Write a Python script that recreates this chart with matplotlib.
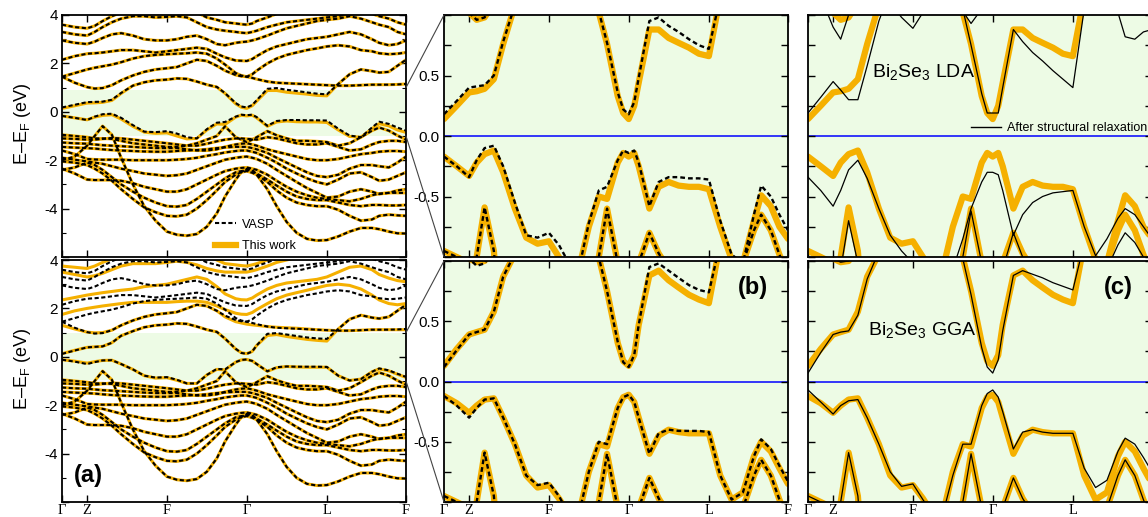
import numpy as np
import matplotlib
matplotlib.use("Agg")
import matplotlib.pyplot as plt
from matplotlib.patches import ConnectionPatch
from matplotlib.lines import Line2D

plt.rcParams['font.family'] = ['Liberation Sans', 'DejaVu Sans']
plt.rcParams['mathtext.fontset'] = 'custom'
plt.rcParams['mathtext.rm'] = 'Liberation Sans'
plt.rcParams['mathtext.it'] = 'Liberation Sans:italic'
plt.rcParams['axes.unicode_minus'] = False

# ---------------- data ----------------
K = [0.000, 0.037, 0.073, 0.095, 0.118, 0.145, 0.172, 0.206, 0.239, 0.272,
     0.305, 0.334, 0.363, 0.392, 0.421, 0.450, 0.474, 0.505, 0.521, 0.537, 0.553, 0.566,
     0.597, 0.624, 0.653, 0.682, 0.712, 0.741, 0.770, 0.803, 0.836, 0.869,
     0.901, 0.922, 0.950, 0.975, 1.000]
KSYM = [0.0, 0.073, 0.305, 0.537, 0.770, 1.0]
KLAB = ['Γ', 'Z', 'F', 'Γ', 'L', 'F']

# conduction bands, LDA (this work ~ VASP)
lda_c1 = [0.14,0.25,0.36,0.37,0.39, 0.47,0.76,1.08,1.22,1.30, 1.33,1.38,1.36,1.25,1.12, 1.02,0.76,0.33,0.19,0.14,0.25,0.44, 0.88,0.88,0.81,0.77,0.73, 0.68,0.66,1.15,1.55,1.75, 1.68,1.62,1.65,1.90,2.15]
lda_c1_vasp = [0.18,0.29,0.40,0.41,0.42, 0.50,0.78,1.08,1.22,1.30, 1.33,1.38,1.36,1.25,1.12, 1.03,0.77,0.36,0.22,0.18,0.28,0.48, 0.95,0.98,0.91,0.86,0.80, 0.75,0.72,1.15,1.55,1.75, 1.68,1.62,1.65,1.90,2.15]
lda_c2 = [1.45,1.20,1.02,0.96,0.98, 1.10,1.30,1.50,1.65,1.75, 1.80,1.85,2.00,2.15,2.10, 1.90,1.70,1.52,1.47,1.45,1.40,1.35, 1.25,1.20,1.18,1.16,1.14, 1.12,1.10,1.08,1.08,1.10, 1.12,1.12,1.12,1.13,1.15]
lda_c3 = [1.45,1.60,1.75,1.82,1.88, 1.95,2.05,2.20,2.30,2.35, 2.38,2.40,2.42,2.45,2.40, 2.20,1.95,1.60,1.50,1.45,1.55,1.70, 2.00,2.20,2.35,2.45,2.55, 2.62,2.70,2.75,2.70,2.55, 2.50,2.42,2.38,2.40,2.45]
lda_c4 = [2.15,2.30,2.40,2.42,2.45, 2.50,2.55,2.55,2.50,2.45, 2.50,2.55,2.60,2.65,2.60, 2.40,2.25,2.12,2.11,2.10,2.18,2.30, 2.55,2.70,2.80,2.90,3.00, 3.05,3.10,3.20,3.30,3.20, 3.00,2.85,2.75,2.80,2.95]
lda_c5 = [2.95,2.85,2.80,2.90,3.05, 3.20,3.25,3.15,3.00,2.95, 2.95,3.00,3.10,3.15,3.00, 2.80,2.75,2.85,2.88,2.90,2.95,3.00, 3.15,3.30,3.45,3.55,3.65, 3.75,3.80,3.85,3.95,3.85, 3.70,3.60,3.50,3.30,3.20]
lda_c6 = [3.30,3.20,3.15,3.30,3.50, 3.70,3.85,3.95,3.95,3.90, 3.92,3.95,3.90,3.70,3.50, 3.40,3.35,3.30,3.27,3.25,3.30,3.35, 3.50,3.60,3.70,3.75,3.80, 3.85,3.90,3.95,4.05,4.10, 4.05,3.95,3.85,3.70,3.60]
lda_c7 = [3.60,3.50,3.45,3.55,3.75, 3.95,4.10,4.20,4.20,4.20, 4.20,4.20,4.20,4.10,3.90, 3.80,3.70,3.65,3.62,3.60,3.65,3.75, 3.90,4.05,4.20,4.20,4.20, 4.20,4.20,4.20,4.20,4.20, 4.20,4.20,4.20,4.20,4.20]

# conduction bands, GGA
gga_c1 = [0.13,0.27,0.39,0.41,0.43, 0.58,0.87,1.06,1.22,1.30, 1.33,1.38,1.36,1.25,1.12, 1.03,0.75,0.32,0.17,0.13,0.22,0.47, 0.88,0.92,0.84,0.78,0.72, 0.68,0.65,1.15,1.55,1.72, 1.62,1.58,1.65,1.90,2.15]
gga_c1_vasp = [0.12,0.26,0.39,0.41,0.43, 0.58,0.87,1.06,1.22,1.30, 1.33,1.38,1.36,1.25,1.12, 1.03,0.75,0.33,0.16,0.12,0.22,0.47, 0.95,0.98,0.92,0.86,0.80, 0.76,0.74,1.15,1.55,1.72, 1.62,1.58,1.65,1.90,2.15]
gga_c2 = [1.30,1.15,1.02,0.99,1.00, 1.10,1.30,1.50,1.65,1.75, 1.80,1.85,2.00,2.15,2.10, 1.90,1.65,1.45,1.40,1.35,1.32,1.30, 1.25,1.22,1.20,1.18,1.15, 1.12,1.10,1.08,1.08,1.10, 1.12,1.12,1.12,1.12,1.12]
gga_c3 = [1.75,1.90,2.00,2.05,2.10, 2.15,2.20,2.25,2.25,2.25, 2.25,2.28,2.30,2.30,2.25, 2.10,1.95,1.80,1.76,1.75,1.83,1.95, 2.20,2.40,2.55,2.65,2.75, 2.85,2.95,3.00,2.95,2.80, 2.55,2.35,2.20,2.15,2.20]
gga_c4 = [2.35,2.45,2.55,2.60,2.65, 2.70,2.75,2.80,2.90,2.95, 3.00,3.10,3.20,3.30,3.20, 2.90,2.60,2.40,2.36,2.35,2.43,2.55, 2.80,2.95,3.05,3.10,3.15, 3.20,3.30,3.50,3.70,3.75, 3.60,3.40,3.25,3.15,3.10]
gga_c5 = [3.50,3.40,3.30,3.35,3.45, 3.60,3.75,3.85,3.85,3.85, 3.90,3.95,3.90,3.80,3.65, 3.55,3.50,3.50,3.50,3.50,3.55,3.60, 3.75,3.90,4.00,4.10,4.15, 4.20,4.20,4.20,4.20,4.20, 4.20,4.20,4.20,4.20,4.20]
gga_c6 = [3.75,3.70,3.65,3.75,3.90, 4.05,4.20,4.20,4.20,4.20, 4.20,4.20,4.20,4.20,4.20, 4.00,3.85,3.80,3.77,3.75,3.80,3.85, 4.00,4.20,4.20,4.20,4.20, 4.20,4.20,4.20,4.20,4.20, 4.20,4.20,4.20,4.20,4.20]

# valence bands
lda_v1 = [-0.17,-0.25,-0.33,-0.22,-0.15, -0.12,-0.30,-0.60,-0.84,-0.89, -0.87,-1.00,-1.12,-1.10,-0.75, -0.50,-0.52,-0.22,-0.14,-0.17,-0.14,-0.25, -0.60,-0.42,-0.38,-0.41,-0.42, -0.42,-0.44,-0.75,-1.02,-1.05, -0.70,-0.49,-0.58,-0.75,-0.85]
lda_v1_vasp = [-0.17,-0.25,-0.34,-0.20,-0.10, -0.08,-0.25,-0.55,-0.82,-0.84, -0.80,-0.90,-1.05,-1.10,-0.72, -0.45,-0.42,-0.20,-0.12,-0.14,-0.12,-0.22, -0.58,-0.38,-0.34,-0.34,-0.35, -0.35,-0.36,-0.70,-0.98,-1.05, -0.65,-0.41,-0.50,-0.65,-0.78]
gga_v1 = [-0.12,-0.18,-0.26,-0.20,-0.15, -0.14,-0.30,-0.52,-0.78,-0.88, -0.86,-0.97,-1.10,-1.10,-0.75, -0.52,-0.54,-0.22,-0.13,-0.11,-0.17,-0.30, -0.60,-0.45,-0.40,-0.42,-0.43, -0.43,-0.43,-0.78,-0.98,-0.92, -0.62,-0.50,-0.58,-0.72,-0.85]
gga_v1_vasp = [-0.12,-0.20,-0.30,-0.22,-0.15, -0.14,-0.30,-0.52,-0.78,-0.86, -0.84,-0.95,-1.10,-1.10,-0.75, -0.50,-0.52,-0.22,-0.13,-0.11,-0.17,-0.30, -0.60,-0.43,-0.40,-0.41,-0.41, -0.41,-0.42,-0.78,-0.98,-0.92, -0.62,-0.48,-0.56,-0.70,-0.83]
v2 = [-0.95,-1.00,-1.05,-1.10,-1.10, -1.12,-1.20,-1.30,-1.35,-1.40, -1.45,-1.45,-1.40,-1.30,-1.15, -1.00,-0.60,-1.05,-1.15,-1.25,-1.15,-1.05, -0.80,-0.97,-1.10,-1.20,-1.20, -1.22,-1.25,-1.40,-1.30,-1.05, -0.78,-0.65,-0.78,-0.98,-1.15]
vb_low = [-2.00,-1.85,-1.40,-1.00,-0.59, -0.95,-1.90,-3.00,-3.90,-4.50, -4.95,-5.08,-5.12,-5.05,-4.75, -4.20,-3.50,-2.80,-2.50,-2.35,-2.40,-2.60, -3.20,-3.90,-4.55,-5.00,-5.25, -5.32,-5.30,-5.15,-4.95,-4.80, -4.80,-4.85,-4.95,-5.02,-5.03]
v3 = [-1.10,-1.12,-1.15,-1.15,-1.12, -1.08,-1.10,-1.15,-1.20,-1.25, -1.30,-1.35,-1.40,-1.40,-1.32, -1.22,-1.15,-1.10,-1.10,-1.12,-1.13,-1.15, -1.05,-1.10,-1.20,-1.30,-1.35, -1.35,-1.30,-1.45,-1.60,-1.55, -1.35,-1.25,-1.20,-1.20,-1.25]
v4 = [-1.27,-1.30,-1.32,-1.35,-1.38, -1.40,-1.42,-1.45,-1.48,-1.50, -1.50,-1.50,-1.55,-1.60,-1.60, -1.55,-1.45,-1.35,-1.32,-1.30,-1.35,-1.40, -1.55,-1.65,-1.75,-1.85,-1.95, -2.00,-2.00,-1.95,-1.85,-1.75, -1.70,-1.65,-1.62,-1.62,-1.65]
v5 = [-1.45,-1.48,-1.50,-1.52,-1.55, -1.58,-1.60,-1.62,-1.64,-1.65, -1.65,-1.62,-1.60,-1.58,-1.55, -1.50,-1.47,-1.45,-1.45,-1.45,-1.50,-1.55, -1.70,-1.90,-2.10,-2.30,-2.50, -2.65,-2.70,-2.60,-2.35,-2.20, -2.20,-2.25,-2.30,-2.10,-1.85]
v6 = [-1.60,-1.75,-1.95,-1.97,-1.98, -1.98,-1.98,-2.00,-2.00,-2.00, -2.00,-1.98,-1.95,-1.90,-1.82, -1.75,-1.68,-1.62,-1.60,-1.60,-1.65,-1.70, -1.90,-2.10,-2.35,-2.55,-2.75, -2.90,-3.00,-2.80,-2.55,-2.50, -2.70,-2.85,-2.80,-2.65,-2.50]
v7 = [-1.90,-1.98,-2.05,-2.10,-2.15, -2.25,-2.35,-2.45,-2.55,-2.60, -2.65,-2.62,-2.55,-2.40,-2.25, -2.10,-1.98,-1.90,-1.87,-1.85,-1.90,-1.95, -2.15,-2.40,-2.65,-2.90,-3.15, -3.35,-3.55,-3.50,-3.30,-3.20, -3.30,-3.40,-3.35,-3.25,-3.20]
v8 = [-2.35,-2.55,-2.80,-2.82,-2.82, -2.82,-2.85,-2.95,-3.10,-3.20, -3.30,-3.30,-3.20,-3.00,-2.80, -2.60,-2.45,-2.35,-2.32,-2.30,-2.35,-2.40, -2.60,-2.85,-3.10,-3.30,-3.45, -3.55,-3.60,-3.65,-3.70,-3.60, -3.45,-3.38,-3.35,-3.35,-3.35]
v9 = [-2.40,-2.30,-2.10,-2.20,-2.40, -2.70,-3.00,-3.30,-3.55,-3.75, -3.90,-3.92,-3.85,-3.60,-3.30, -3.00,-2.75,-2.50,-2.45,-2.40,-2.47,-2.55, -2.80,-3.05,-3.30,-3.50,-3.60, -3.65,-3.65,-3.75,-3.85,-3.90, -3.85,-3.85,-3.87,-3.87,-3.85]
v10 = [-2.05,-2.10,-2.20,-2.35,-2.55, -2.85,-3.20,-3.60,-3.95,-4.15, -4.30,-4.32,-4.25,-4.00,-3.65, -3.25,-2.90,-2.60,-2.50,-2.45,-2.52,-2.60, -2.90,-3.25,-3.55,-3.75,-3.85, -3.90,-3.90,-4.05,-4.30,-4.50, -4.45,-4.30,-4.25,-4.28,-4.30]

# after structural relaxation
rl_c1 = [0.19,0.32,0.45,0.38,0.30, 0.30,0.58,0.95,1.20,1.35, 1.40,1.45,1.45,1.35,1.20, 1.05,0.75,0.35,0.19,0.19,0.19,0.40, 0.88,0.78,0.69,0.62,0.54, 0.47,0.40,1.05,1.50,1.70, 1.62,1.58,1.65,1.90,2.15]
rl_c2 = [1.30,1.15,0.90,0.80,1.00, 1.20,1.30,1.25,1.10,0.98, 0.89,1.02,1.15,1.15,1.10, 1.03,0.93,1.05,1.20,1.30,1.33,1.35, 1.30,1.25,1.30,1.40,1.50, 1.55,1.55,1.45,1.30,1.15, 1.02,0.82,0.80,0.86,0.88]
rl_v1 = [-0.34,-0.45,-0.58,-0.45,-0.28, -0.20,-0.35,-0.60,-0.82,-0.95, -1.05,-1.15,-1.20,-1.20,-1.10, -0.85,-0.60,-0.38,-0.30,-0.30,-0.32,-0.45, -0.82,-0.65,-0.55,-0.50,-0.47, -0.46,-0.45,-0.75,-0.99,-0.85, -0.68,-0.60,-0.65,-0.75,-0.85]
rl_v2 = [-1.05,-1.10,-1.15,-1.20,-1.20, -1.20,-1.25,-1.30,-1.35,-1.40, -1.45,-1.45,-1.40,-1.30,-1.15, -1.00,-0.62,-1.05,-1.18,-1.30,-1.20,-1.10, -0.80,-1.00,-1.15,-1.20,-1.20, -1.22,-1.25,-1.40,-1.30,-1.10, -0.90,-0.80,-0.88,-1.00,-1.15]
rl_vlow = [-2.10,-1.95,-1.50,-1.10,-0.70, -1.05,-2.00,-3.00,-3.90,-4.50, -4.95,-5.08,-5.12,-5.05,-4.75, -4.20,-3.50,-2.80,-2.50,-2.35,-2.40,-2.60, -3.20,-3.90,-4.55,-5.00,-5.25, -5.32,-5.30,-5.15,-4.95,-4.80, -4.80,-4.85,-4.95,-5.02,-5.03]
rg_c1 = [0.07,0.24,0.39,0.41,0.42, 0.55,0.85,1.08,1.22,1.30, 1.33,1.38,1.36,1.25,1.12, 1.02,0.72,0.28,0.12,0.07,0.18,0.42, 0.88,0.92,0.89,0.86,0.82, 0.79,0.76,1.15,1.55,1.72, 1.62,1.58,1.65,1.90,2.15]
rg_v1 = [-0.07,-0.17,-0.27,-0.20,-0.16, -0.15,-0.30,-0.52,-0.75,-0.87, -0.85,-0.98,-1.10,-1.10,-0.78, -0.52,-0.52,-0.20,-0.10,-0.07,-0.13,-0.25, -0.56,-0.42,-0.40,-0.42,-0.43, -0.43,-0.43,-0.72,-0.88,-0.82, -0.58,-0.47,-0.52,-0.63,-0.75]

deep = [v2, vb_low, v3, v4, v5, v6, v7, v8, v9, v10]
lda_this = [lda_c1, lda_c2, lda_c3, lda_c4, lda_c5, lda_c6, lda_c7, lda_v1] + deep
lda_vasp = [lda_c1_vasp, lda_c2, lda_c3, lda_c4, lda_c5, lda_c6, lda_c7, lda_v1_vasp] + deep
gga_this = [gga_c1, gga_c2, gga_c3, gga_c4, gga_c5, gga_c6, gga_v1] + deep
gga_vasp = [gga_c1_vasp, lda_c2, lda_c3, lda_c4, lda_c5, lda_c6, lda_c7, gga_v1_vasp] + deep
lda_relaxed = [rl_c1, rl_c2, rl_v1, rl_v2, rl_vlow]
gga_relaxed = [rg_c1, gga_c2, rg_v1, v2, vb_low]

# ---------------- styling ----------------
ORANGE = '#F5B000'
GREEN = '#EDFBE5'
DASH = (0, (2.0, 1.2))

W, H = 1148, 517
fig = plt.figure(figsize=(W / 100, H / 100), dpi=100)


def add_ax(x0, y0, x1, y1):
    return fig.add_axes([x0 / W, 1 - y1 / H, (x1 - x0) / W, (y1 - y0) / H])


ax_at = add_ax(62, 15, 406, 257)
ax_ab = add_ax(62, 260, 406, 502)
ax_bt = add_ax(444, 15, 788, 257)
ax_bb = add_ax(444, 261, 788, 502)
ax_ct = add_ax(808, 15, 1152, 257)
ax_cb = add_ax(808, 261, 1152, 502)


def style(ax, labels, ylim):
    ax.set_xlim(0, 1)
    ax.set_ylim(*ylim)
    ax.set_xticks(KSYM)
    if labels:
        ax.set_xticklabels(labels, fontfamily='Liberation Serif', fontsize=10.5)
    else:
        ax.set_xticklabels([])
    ax.tick_params(which='both', direction='in', top=True, right=True)
    ax.tick_params(which='major', length=5, width=1.0)
    ax.tick_params(which='minor', length=3, width=0.8)
    ax.tick_params(axis='x', pad=1.5)
    ax.tick_params(axis='y', labelsize=11, pad=3)
    for s in ax.spines.values():
        s.set_linewidth(1.3)


# panel (a)
for ax, this, vasp, lo, hi, lab in [(ax_at, lda_this, lda_vasp, -1.0, 0.9, None),
                                    (ax_ab, gga_this, gga_vasp, -0.97, 1.0, KLAB)]:
    style(ax, lab, (-6, 4))
    ax.axhspan(lo, hi, color=GREEN, lw=0, zorder=0)
    for b in this:
        ax.plot(K, b, color=ORANGE, lw=2.2, zorder=2)
    for b in vasp:
        ax.plot(K, b, color='k', lw=1.5, ls=DASH, zorder=3)
    ax.set_yticks([-6, -4, -2, 0, 2, 4])
    ax.set_yticklabels(['', '-4', '-2', '0', '2', '4'])
    ax.set_yticks([-5, -3, -1, 1, 3], minor=True)
    ax.set_ylabel('E–E$_\\mathrm{F}$ (eV)', fontsize=13)
    ax.yaxis.set_label_coords(-0.085, 0.55)

ax_at.legend([Line2D([], [], color='k', lw=1.5, ls=DASH),
              Line2D([], [], color=ORANGE, lw=4.5)],
             ['VASP', 'This work'], loc='lower left',
             bbox_to_anchor=(0.445, 0.02), frameon=False, fontsize=9,
             handlelength=1.7, handletextpad=0.45, labelspacing=0.75,
             borderpad=0, borderaxespad=0)

ax_ab.text(0.076, 0.11, '(a)', transform=ax_ab.transAxes, fontsize=17,
           fontweight='bold', ha='center', va='center')

# panel (b) and (c)
zticks = [-1.0, -0.75, -0.5, -0.25, 0.0, 0.25, 0.5, 0.75, 1.0]
zlabels = ['', '', '-0.5', '', '0.0', '', '0.5', '', '']
for ax, this, other, kind, lab in [(ax_bt, lda_this, lda_vasp, 'dash', None),
                                   (ax_bb, gga_this, gga_vasp, 'dash', KLAB),
                                   (ax_ct, lda_this, lda_relaxed, 'solid', None),
                                   (ax_cb, gga_this, gga_relaxed, 'solid', KLAB[:-1] + [''])]:
    style(ax, lab, (-1.0, 1.0))
    ax.set_facecolor(GREEN)
    ax.axhline(0, color='#0000FF', lw=1.1, zorder=1)
    for b in this:
        ax.plot(K, b, color=ORANGE, lw=4.5, zorder=2, solid_capstyle='round',
                solid_joinstyle='round')
    for b in other:
        if kind == 'dash':
            ax.plot(K, b, color='k', lw=1.7, ls=(0, (2.0, 1.3)), zorder=3)
        else:
            ax.plot(K, b, color='k', lw=0.9, zorder=3)
    ax.set_yticks(zticks)
    if ax in (ax_bt, ax_bb):
        ax.set_yticklabels(zlabels)
    else:
        ax.set_yticklabels([])

ax_bb.text(0.898, 0.888, '(b)', transform=ax_bb.transAxes, fontsize=17,
           fontweight='bold', ha='center', va='center')
ax_cb.text(0.901, 0.892, '(c)', transform=ax_cb.transAxes, fontsize=17,
           fontweight='bold', ha='center', va='center')
ax_ct.text(0.186, 0.764, 'Bi$_2$Se$_3$ LDA', transform=ax_ct.transAxes,
           fontsize=14, ha='left', va='center')
ax_cb.text(0.174, 0.714, 'Bi$_2$Se$_3$ GGA', transform=ax_cb.transAxes,
           fontsize=14, ha='left', va='center')
ax_ct.legend([Line2D([], [], color='k', lw=1.0)], ['After structural relaxation'],
             loc='center left', bbox_to_anchor=(0.474, 0.533), frameon=False,
             fontsize=9, handlelength=2.4, handletextpad=0.45,
             borderpad=0, borderaxespad=0)

# zoom connectors
for axa, axb in [(ax_at, ax_bt), (ax_ab, ax_bb)]:
    for e, yb in [(1.0, 1.0), (-1.0, 0.0)]:
        con = ConnectionPatch(xyA=(1.0, e), coordsA='data', axesA=axa,
                              xyB=(0.0, yb), coordsB='axes fraction', axesB=axb,
                              color='#444444', lw=0.8)
        fig.add_artist(con)

fig.savefig('out.png', dpi=100)
